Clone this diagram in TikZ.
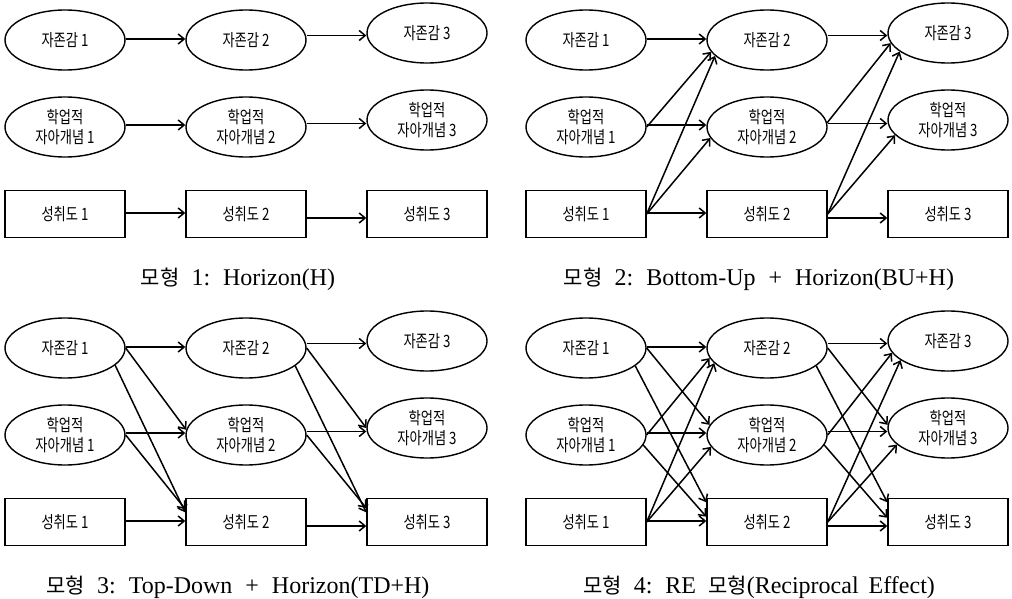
\documentclass[tikz,border=0pt]{standalone}
\usepackage{fontspec}
\setmainfont{Liberation Serif}
\newfontfamily\krn[FakeStretch=0.78]{Noto Sans CJK KR}
\newfontfamily\krc{Noto Sans CJK KR}
\usetikzlibrary{shapes.geometric,arrows.meta,calc}
\tikzset{
  ell/.style={ellipse,draw,line width=1.4pt,minimum width=120pt,minimum height=60pt,inner sep=0pt,align=center,font=\krn\fontsize{17}{20}\selectfont},
  rbox/.style={rectangle,draw,line width=1.4pt,minimum width=120pt,minimum height=47pt,inner sep=0pt,font=\krn\fontsize{17}{20}\selectfont},
  arr/.style={line width=1.5pt,-{Straight Barb[length=6pt,width=10pt]}},
  captxt/.style={font=\fontsize{24}{28}\selectfont,inner sep=0pt,anchor=base},
}
\newcommand\panelnodes[1]{%
  \node[ell] (#1a1) at (65,40) {자존감 1};
  \node[ell] (#1a2) at (246,40) {자존감 2};
  \node[ell] (#1a3) at (427,33) {자존감 3};
  \node[ell] (#1b1) at (65,127) {학업적\\자아개념 1};
  \node[ell] (#1b2) at (246,127) {학업적\\자아개념 2};
  \node[ell] (#1b3) at (427,120) {학업적\\자아개념 3};
  \node[rbox] (#1c1) at (65,214) {성취도 1};
  \node[rbox] (#1c2) at (246,214) {성취도 2};
  \node[rbox] (#1c3) at (427,214) {성취도 3};
}
\newcommand\harr[3]{\draw[arr] let \p1=(#1.east), \p2=(#2.west) in
  (\x1,{(\y1+\y2)/2-(#3)*1pt}) -- (\x2,{(\y1+\y2)/2-(#3)*1pt});}
\newcommand\hall[1]{%
  \harr{#1a1}{#1a2}{-1}\harr{#1b1}{#1b2}{-2}\harr{#1c1}{#1c2}{-1}%
  \harr{#1a2}{#1a3}{-1}\harr{#1b2}{#1b3}{0}\harr{#1c2}{#1c3}{4}%
}
\begin{document}
\begin{tikzpicture}[x=1pt,y=-1pt]
\fill[white] (0,0) rectangle (1012,599);
\useasboundingbox (0,0) rectangle (1012,599);

\begin{scope}\panelnodes{A}\end{scope}
\begin{scope}[shift={(521,0)}]\panelnodes{B}\end{scope}
\begin{scope}[shift={(0,308)}]\panelnodes{C}\end{scope}
\begin{scope}[shift={(521,308)}]\panelnodes{D}\end{scope}

\hall{A}\hall{B}\hall{C}\hall{D}

% Panel 2: bottom-up
\draw[arr] (Bb1.east) -- (Ba2.192);
\draw[arr] (Bc1.east) -- (Ba2.197);
\draw[arr] (Bc1.east) -- (Bb2.191);
\draw[arr] (Bb2.4) -- (Ba3.190);
\draw[arr] (Bc2.east) -- (Ba3.201);
\draw[arr] (Bc2.east) -- (Bb3.196);

% Panel 3: top-down
\draw[arr] (Ca1.east) -- (Cb2.175);
\draw[arr] (Ca1.-19) -- (Cc2.171);
\draw[arr] (Cb1.east) -- (Cc2.168);
\draw[arr] (Ca2.east) -- (Cb3.180);
\draw[arr] (Ca2.-20) -- (Cc3.171);
\draw[arr] (Cb2.east) -- (Cc3.167);

% Panel 4: reciprocal
\draw[arr] (Da1.east) -- (Db2.170);
\draw[arr] (Da1.-20) -- (Dc2.162);
\draw[arr] (Db1.east) -- (Da2.190);
\draw[arr] (Db1.-10) -- (Dc2.175);
\draw[arr] (Dc1.east) -- (Da2.196);
\draw[arr] (Dc1.east) -- (Db2.192);
\draw[arr] (Da2.east) -- (Db3.177);
\draw[arr] (Da2.-20) -- (Dc3.162);
\draw[arr] (Db2.east) -- (Da3.192);
\draw[arr] (Db2.-10) -- (Dc3.176);
\draw[arr] (Dc2.east) -- (Da3.202);
\draw[arr] (Dc2.east) -- (Db3.198);

% captions
\node[captxt] (cap1) at (238,285) {{\fontsize{21}{28}\selectfont\krc 모형}\hspace{12pt}1:\hspace{13pt}Horizon(H)};
\node[captxt] (cap2) at (759,285) {{\fontsize{21}{28}\selectfont\krc 모형}\hspace{12pt}2:\hspace{13pt}Bottom-Up\hspace{13pt}+\hspace{13pt}Horizon(BU+H)};
\node[captxt] (cap3) at (238,593) {{\fontsize{21}{28}\selectfont\krc 모형}\hspace{12pt}3:\hspace{13pt}Top-Down\hspace{13pt}+\hspace{13pt}Horizon(TD+H)};
\node[captxt] (cap4) at (759,593) {{\fontsize{21}{28}\selectfont\krc 모형}\hspace{12pt}4:\hspace{13pt}RE\hspace{12pt}{\fontsize{21}{28}\selectfont\krc 모형}(Reciprocal\hspace{10pt}Effect)};
\end{tikzpicture}
\end{document}
